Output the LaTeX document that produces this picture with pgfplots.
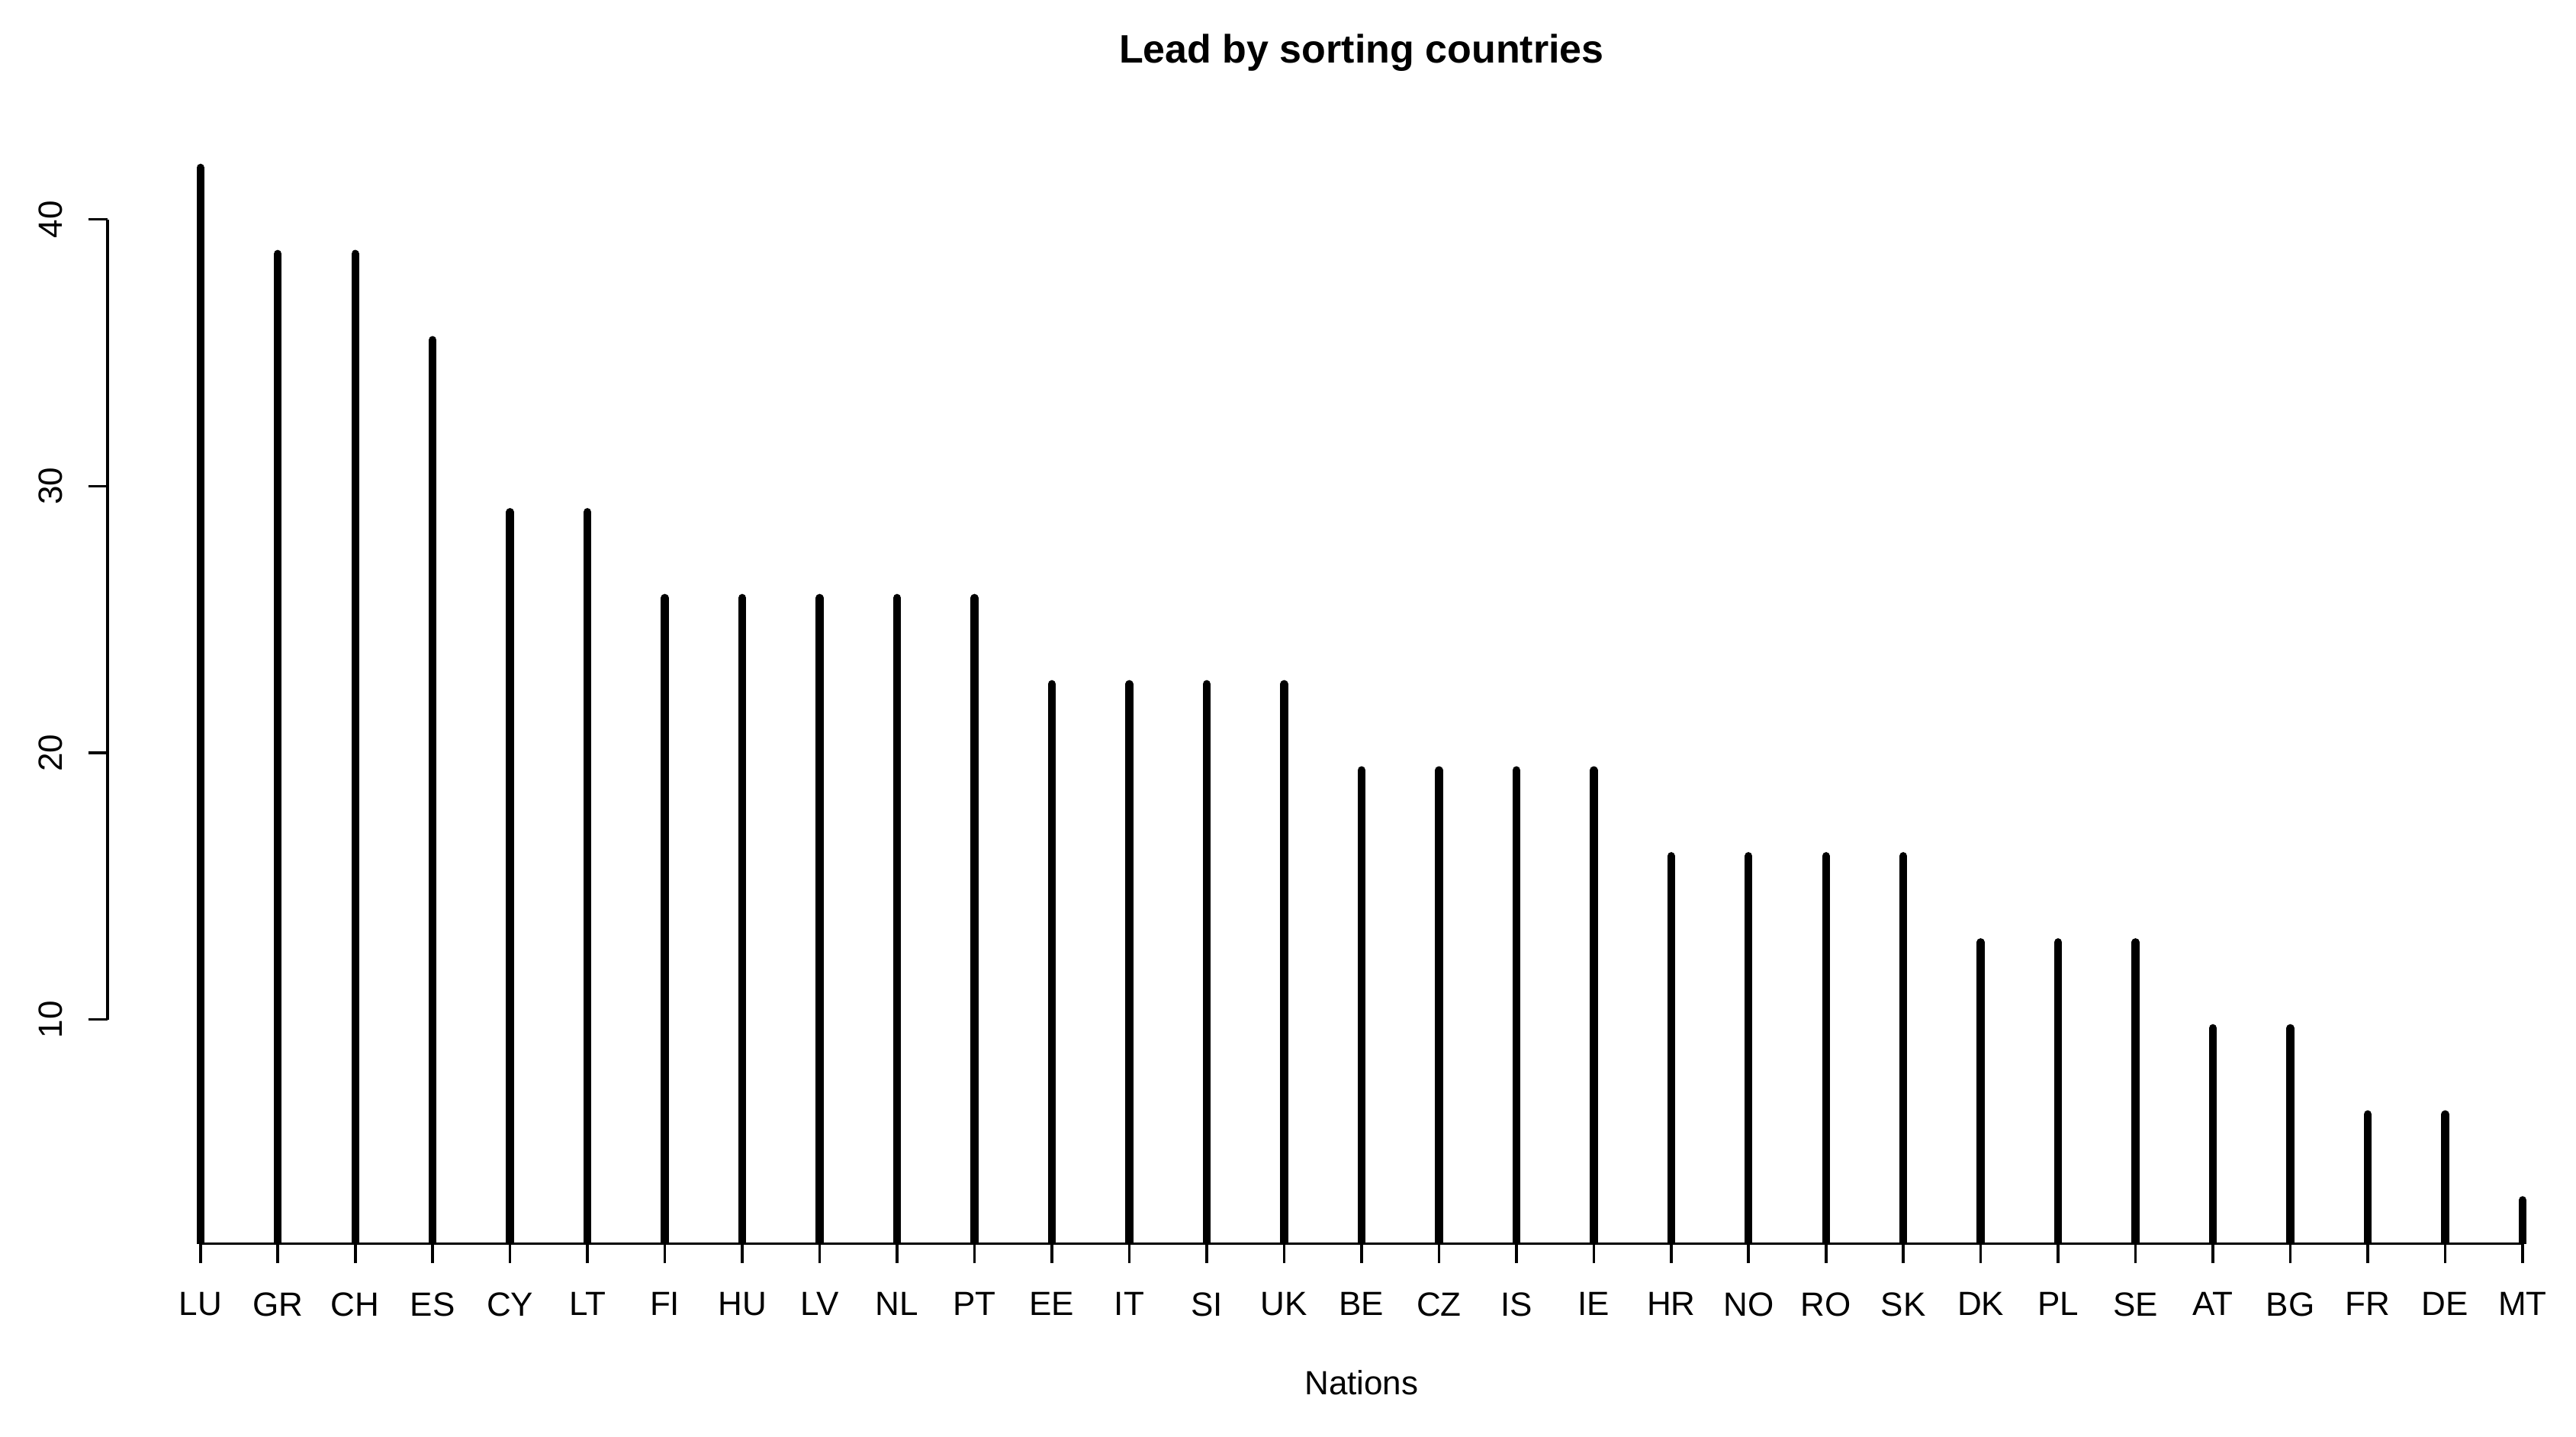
\documentclass[border=0pt]{standalone}
\usepackage{pgfplots}
\pgfplotsset{compat=1.18}
\usepackage{fontspec}
\setmainfont{Liberation Sans}

\begin{document}
\begin{tikzpicture}
\begin{axis}[
    scale only axis,
    width=809pt,
    height=366.1pt,
    xmin=-0.2, xmax=31.69,
    ymin=1.6, ymax=43.48,
    clip mode=individual,
    axis line style={draw=none},
    xtick=data,
    xticklabels={LU,GR,CH,ES,CY,LT,FI,HU,LV,NL,PT,EE,IT,SI,UK,BE,CZ,IS,IE,HR,NO,RO,SK,DK,PL,SE,AT,BG,FR,DE,MT},
    ytick={10,20,30,40},
    tick align=outside,
    major tick length=6.3pt,
    tick style={black, line width=0.9pt},
    xtick pos=bottom, ytick pos=left,
    /pgf/number format/assume math mode=true,
    tick label style={font=\fontsize{11}{13}\selectfont, inner sep=0pt},
    xticklabel style={anchor=north},
    xticklabel shift=9.5pt,
    yticklabel style={rotate=90, anchor=south},
    yticklabel shift=8.25pt,
]
  \addplot+[ycomb, mark=none, black, line width=2.6pt, line cap=round] coordinates {
    (1,41.94) (2,38.71) (3,38.71) (4,35.48) (5,29.03) (6,29.03)
    (7,25.81) (8,25.81) (9,25.81) (10,25.81) (11,25.81)
    (12,22.58) (13,22.58) (14,22.58) (15,22.58)
    (16,19.35) (17,19.35) (18,19.35) (19,19.35)
    (20,16.13) (21,16.13) (22,16.13) (23,16.13)
    (24,12.90) (25,12.90) (26,12.90)
    (27,9.68) (28,9.68)
    (29,6.45) (30,6.45)
    (31,3.23)
  };
  % R-style axis lines: only between first and last tick
  \draw[black, line width=0.9pt] (axis cs:1,1.6) -- (axis cs:31,1.6);
  \draw[black, line width=0.9pt] (axis cs:-0.2,10) -- (axis cs:-0.2,40);
  \node[font=\fontsize{13}{15}\selectfont\bfseries, yshift=24.2pt] at (axis cs:16,43.48) {Lead by sorting countries};
  \node[font=\fontsize{11}{13}\selectfont, yshift=-45.5pt] at (axis cs:16,1.6) {Nations};
\end{axis}
\pgfresetboundingbox
\path[use as bounding box] ([xshift=-35.25pt,yshift=-63.2pt]current axis.south west) rectangle ([yshift=41.5pt]current axis.north east);
\end{tikzpicture}
\end{document}
